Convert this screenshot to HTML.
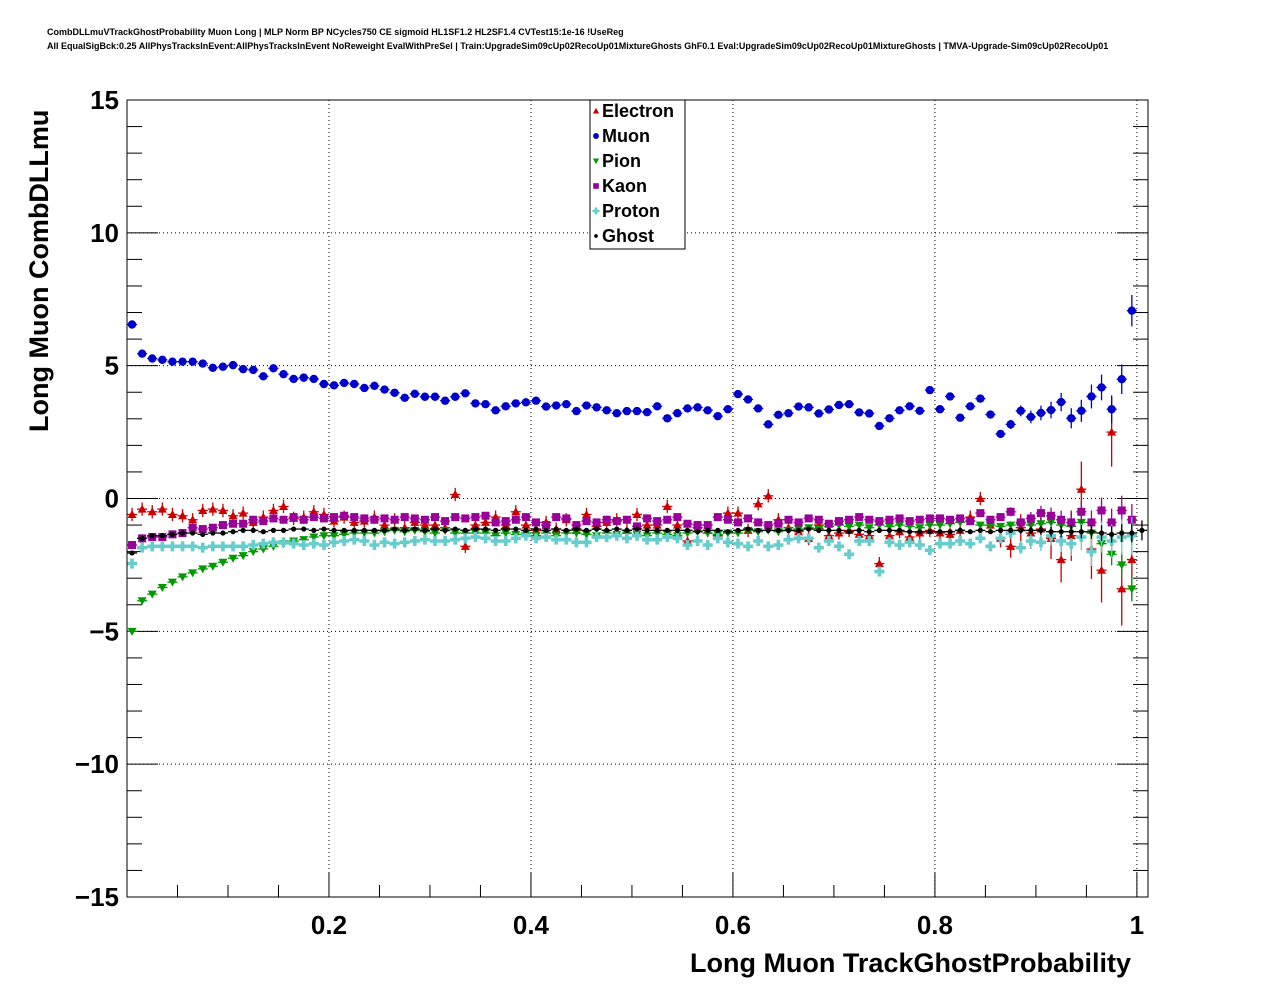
<!DOCTYPE html>
<html><head><meta charset="utf-8"><style>
body{margin:0;background:#fff;}
svg{display:block;font-family:"Liberation Sans",sans-serif;}
</style></head><body>
<svg id="chart" width="1276" height="996">
<rect width="1276" height="996" fill="#fff"/>
<text x="47" y="35" font-size="9" font-weight="bold">CombDLLmuVTrackGhostProbability Muon Long | MLP Norm BP NCycles750 CE sigmoid HL1SF1.2 HL2SF1.4 CVTest15:1e-16 !UseReg</text>
<text x="47" y="49" font-size="9" font-weight="bold">All EqualSigBck:0.25 AllPhysTracksInEvent:AllPhysTracksInEvent NoReweight EvalWithPreSel | Train:UpgradeSim09cUp02RecoUp01MixtureGhosts GhF0.1 Eval:UpgradeSim09cUp02RecoUp01MixtureGhosts | TMVA-Upgrade-Sim09cUp02RecoUp01</text>
<g id="grid"></g>
<g id="axes"></g>
<g id="marks"></g>
<rect x="127" y="100" width="1021" height="797" fill="none" stroke="#000" stroke-width="1"/>
<text x="1131" y="972" font-size="27" font-weight="bold" text-anchor="end">Long Muon TrackGhostProbability</text>
<text transform="translate(48,432) rotate(-90)" font-size="27" font-weight="bold" text-anchor="start">Long Muon CombDLLmu</text>
<g>
<rect x="590" y="100" width="95" height="149" fill="#fff" stroke="#000"/>
<g id="legend-items"></g>
</g>
</svg>
<script>
const xTicks=[0.2,0.4,0.6,0.8,1];
const xTickLabels=["0.2","0.4","0.6","0.8","1"];
const yTicks=[-15,-10,-5,0,5,10,15];
const yTickLabels=["\u221215","\u221210","\u22125","0","5","10","15"];
const binWidth=0.01;
const muon=[6.55,5.45,5.27,5.22,5.15,5.15,5.15,5.08,4.92,4.96,5.02,4.87,4.84,4.6,4.9,4.68,4.5,4.55,4.5,4.31,4.26,4.35,4.31,4.16,4.24,4.1,3.98,3.79,3.94,3.83,3.83,3.68,3.83,3.96,
3.58,3.55,3.32,3.47,3.58,3.62,3.68,3.46,3.5,3.55,3.29,3.5,3.43,3.32,3.21,3.29,3.29,3.25,3.47,3.02,3.21,3.39,3.43,3.32,3.1,3.36,3.93,3.73,3.39,2.79,3.15,3.21,3.46,
3.43,3.2,3.35,3.52,3.55,3.24,3.2,2.73,3.02,3.32,3.47,3.3,4.08,3.36,3.84,3.04,3.47,3.76,3.16,2.43,2.79,3.3,3.07,3.22,3.33,3.63,3.02,3.3,3.84,4.18,3.36,4.49,7.07];
const electron=[-0.6,-0.4,-0.5,-0.4,-0.6,-0.65,-0.8,-0.45,-0.4,-0.45,-0.65,-0.55,-0.9,-0.7,-0.45,-0.3,-0.75,-0.7,-0.5,-0.6,
-0.85,-0.7,-0.9,-0.85,-0.7,-1.0,-0.8,-1.1,-0.9,-1.0,-1.0,-1.1,0.15,-1.8,-1.0,-0.9,-0.7,-1.0,-0.5,-1.0,
-1.2,-0.9,-1.15,-0.8,-1.2,-0.6,-1.05,-0.9,-0.8,-1.2,-0.6,-1.0,-1.0,-0.3,-1.0,-1.6,-1.1,-1.2,-1.4,-0.55,
-0.55,-1.2,-0.2,0.1,-0.8,-1.1,-1.25,-1.5,-1.0,-1.4,-1.3,-1.2,-1.35,-1.4,-2.45,-1.4,-1.25,-1.45,-1.3,-1.2,
-1.3,-1.35,-1.2,-0.7,0.0,-1.0,-1.5,-1.8,-1.1,-1.3,-1.15,-1.5,-2.3,-1.4,0.35,-1.9,-2.7,2.5,-3.4,-2.3];
const pion=[-5.0,-3.85,-3.6,-3.35,-3.15,-2.95,-2.8,-2.65,-2.55,-2.4,-2.25,-2.15,-2.0,-1.9,-1.8,-1.7,-1.6,-1.55,-1.45,-1.4,
-1.4,-1.35,-1.3,-1.3,-1.3,-1.25,-1.2,-1.25,-1.2,-1.25,-1.3,-1.2,-1.3,-1.3,-1.3,-1.3,-1.4,-1.3,-1.35,-1.3,
-1.4,-1.3,-1.4,-1.3,-1.3,-1.35,-1.4,-1.3,-1.35,-1.3,-1.35,-1.4,-1.3,-1.35,-1.4,-1.3,-1.25,-1.3,-1.35,-1.3,
-1.3,-1.2,-1.25,-1.2,-1.25,-1.2,-1.15,-1.1,-1.15,-1.05,-1.0,-1.05,-1.0,-1.1,-1.0,-1.05,-1.0,-1.05,-1.1,-1.0,
-1.0,-0.95,-0.9,-0.85,-1.0,-1.0,-1.05,-1.0,-0.95,-1.0,-0.95,-0.9,-1.0,-1.05,-0.9,-1.3,-1.7,-2.1,-2.5,-3.4];
const kaon=[-1.75,-1.5,-1.45,-1.45,-1.35,-1.3,-1.1,-1.15,-1.1,-1.0,-0.95,-0.95,-0.8,-0.85,-0.75,-0.8,-0.7,-0.8,-0.7,-0.75,
-0.7,-0.65,-0.7,-0.75,-0.8,-0.75,-0.8,-0.7,-0.75,-0.8,-0.7,-0.85,-0.7,-0.75,-0.7,-0.65,-0.9,-0.85,-0.8,-0.7,
-0.9,-1.0,-0.7,-0.75,-1.0,-0.85,-0.9,-0.8,-0.85,-0.8,-1.05,-0.75,-0.85,-0.8,-0.7,-0.95,-1.0,-1.0,-0.7,-0.8,
-0.9,-0.75,-0.9,-1.0,-0.95,-0.8,-0.9,-0.75,-0.8,-0.95,-0.85,-0.8,-0.7,-0.8,-0.85,-0.8,-0.75,-0.85,-0.8,-0.75,
-0.75,-0.8,-0.75,-0.85,-0.55,-0.8,-0.7,-0.5,-0.9,-0.75,-0.55,-0.65,-0.8,-0.9,-0.5,-0.9,-0.45,-0.9,-0.45,-0.8];
const proton=[-2.45,-1.85,-1.8,-1.8,-1.8,-1.8,-1.8,-1.85,-1.8,-1.8,-1.8,-1.8,-1.75,-1.7,-1.65,-1.65,-1.7,-1.75,-1.7,-1.75,
-1.65,-1.6,-1.55,-1.6,-1.75,-1.65,-1.7,-1.65,-1.6,-1.55,-1.6,-1.6,-1.55,-1.5,-1.45,-1.5,-1.6,-1.6,-1.5,-1.4,
-1.5,-1.45,-1.55,-1.55,-1.65,-1.65,-1.45,-1.45,-1.4,-1.5,-1.4,-1.55,-1.55,-1.45,-1.5,-1.75,-1.6,-1.75,-1.5,-1.65,
-1.7,-1.8,-1.6,-1.8,-1.75,-1.55,-1.5,-1.5,-1.85,-1.6,-1.8,-2.1,-1.6,-1.6,-2.75,-1.65,-1.75,-1.65,-1.75,-1.95,
-1.7,-1.7,-1.6,-1.7,-1.5,-1.8,-1.5,-1.3,-1.85,-1.6,-1.65,-1.4,-1.6,-1.7,-1.45,-2.0,-1.45,-1.6,-1.45,-1.4];
const ghost=[-2.05,-1.5,-1.4,-1.4,-1.35,-1.3,-1.3,-1.35,-1.3,-1.3,-1.25,-1.2,-1.2,-1.25,-1.2,-1.2,-1.15,-1.15,-1.2,-1.15,
-1.2,-1.2,-1.2,-1.2,-1.2,-1.2,-1.15,-1.2,-1.15,-1.2,-1.15,-1.2,-1.15,-1.2,-1.15,-1.15,-1.2,-1.15,-1.15,-1.2,
-1.15,-1.2,-1.15,-1.2,-1.15,-1.2,-1.15,-1.2,-1.15,-1.2,-1.15,-1.2,-1.2,-1.2,-1.2,-1.2,-1.25,-1.2,-1.2,-1.25,
-1.2,-1.15,-1.2,-1.2,-1.2,-1.2,-1.2,-1.15,-1.2,-1.2,-1.2,-1.25,-1.2,-1.25,-1.2,-1.2,-1.2,-1.25,-1.25,-1.25,
-1.25,-1.25,-1.2,-1.25,-1.2,-1.25,-1.2,-1.2,-1.2,-1.2,-1.2,-1.25,-1.25,-1.25,-1.25,-1.25,-1.3,-1.35,-1.3,-1.3,-1.2];
const seriesNames=["electron","muon","pion","kaon","proton","ghost"];
const legendLabels=["Electron","Muon","Pion","Kaon","Proton","Ghost"];
const errBase=[0.25,0.1,0.08,0.1,0.12,0.06];

const X0=127,X1=1148,Y0=100,Y1=897,XMIN=0,XMAX=1.011,YMIN=-15,YMAX=15;
function xs(v){return X0+(v-XMIN)/(XMAX-XMIN)*(X1-X0);}
function ys(v){return Y1-(v-YMIN)/(YMAX-YMIN)*(Y1-Y0);}
const NS="http://www.w3.org/2000/svg";
function mk(tag,attrs,parent){const e=document.createElementNS(NS,tag);for(const k in attrs)e.setAttribute(k,attrs[k]);parent.appendChild(e);return e;}
const grid=document.getElementById('grid'),axes=document.getElementById('axes'),marks=document.getElementById('marks');
xTicks.forEach((t,i)=>{
  const l=mk('line',{x1:xs(t),x2:xs(t),y1:Y0,y2:Y1,stroke:'#000','stroke-dasharray':'1,3','stroke-width':1},grid);
  
  
  const tk=mk('line',{x1:xs(t),x2:xs(t),y1:Y1,y2:Y1-24,stroke:'#000'},axes);
  
  
  const tx=mk('text',{x:xs(t),y:Y1+37,'font-size':26,'font-weight':'bold','text-anchor':'middle'},axes);
  tx.textContent=xTickLabels[i];
  
  
});
for(let v=0.05;v<XMAX;v+=0.05){
  if(Math.abs(v*5-Math.round(v*5))<1e-6)continue;
  const tk=mk('line',{x1:xs(v),x2:xs(v),y1:Y1,y2:Y1-12,stroke:'#000'},axes);
  
  
}
yTicks.forEach((t,i)=>{
  if(t>YMIN&&t<YMAX){
    const l=mk('line',{x1:X0,x2:X1,y1:ys(t),y2:ys(t),stroke:'#000','stroke-dasharray':'1,3','stroke-width':1},grid);
    
    
  }
  [[X0,X0+31],[X1,X1-31]].forEach(p=>{
    const tk=mk('line',{x1:p[0],x2:p[1],y1:ys(t),y2:ys(t),stroke:'#000'},axes);
    
    
  });
  const tx=mk('text',{x:X0-8,y:ys(t)+9,'font-size':26,'font-weight':'bold','text-anchor':'end'},axes);
  tx.textContent=yTickLabels[i];
  
  
});
for(let v=YMIN+1;v<YMAX;v++){
  if(v%5===0)continue;
  [[X0,X0+15],[X1,X1-15]].forEach(p=>{
    const tk=mk('line',{x1:p[0],x2:p[1],y1:ys(v),y2:ys(v),stroke:'#000'},axes);
    
    
  });
}
const colors={electron:'#cc0000',muon:'#0000cc',pion:'#009900',kaon:'#990099',proton:'#66cccc',ghost:'#000000'};
function marker(name,cx,cy,parent,s){
  const c=colors[name];s=s||1;let e;
  if(name==='electron')e=mk('polygon',{points:`${cx},${cy-4.5*s} ${cx-4.5*s},${cy+3.5*s} ${cx+4.5*s},${cy+3.5*s}`,fill:c},parent);
  else if(name==='muon')e=mk('circle',{cx:cx,cy:cy,r:4.2*s,fill:c},parent);
  else if(name==='pion')e=mk('polygon',{points:`${cx-4.5*s},${cy-3.5*s} ${cx+4.5*s},${cy-3.5*s} ${cx},${cy+4.5*s}`,fill:c},parent);
  else if(name==='kaon')e=mk('rect',{x:cx-4*s,y:cy-4*s,width:8*s,height:8*s,fill:c},parent);
  else if(name==='proton')e=mk('path',{d:`M${cx-1.8*s},${cy-5*s}h${3.6*s}v${3.2*s}h${3.2*s}v${3.6*s}h${-3.2*s}v${3.2*s}h${-3.6*s}v${-3.2*s}h${-3.2*s}v${-3.6*s}h${3.2*s}z`,fill:c},parent);
  else e=mk('circle',{cx:cx,cy:cy,r:2.6*s,fill:c},parent);
  return e;
}
const dataMap={electron,muon,pion,kaon,proton,ghost};
seriesNames.forEach((name,si)=>{
  const arr=dataMap[name];
  const g=mk('g',{},marks);
  
  
  arr.forEach((v,i)=>{
    const xc=(i+0.5)*binWidth;
    const cx=xs(xc),cy=ys(v);
    const tail=i>=85?1+(i-85)*0.35:1;
    const err=errBase[si]*tail;
    const h=mk('line',{x1:xs(xc-binWidth/2),x2:xs(xc+binWidth/2),y1:cy,y2:cy,stroke:colors[name],'stroke-width':1.3},g);
    
    
    const vl=mk('line',{x1:cx,x2:cx,y1:ys(v-err),y2:ys(v+err),stroke:colors[name],'stroke-width':1.3},g);
    
    
    const m=marker(name,cx,cy,g);
    
    
  });
});
const li=document.getElementById('legend-items');
legendLabels.forEach((lab,i)=>{
  const y=111+i*25;
  const m=marker(seriesNames[i],596,y,li,0.7);
  
  
  const t=mk('text',{x:602,y:y+6,'font-size':18,'font-weight':'bold'},li);
  t.textContent=lab;
  
  
});
</script>
</body></html>
